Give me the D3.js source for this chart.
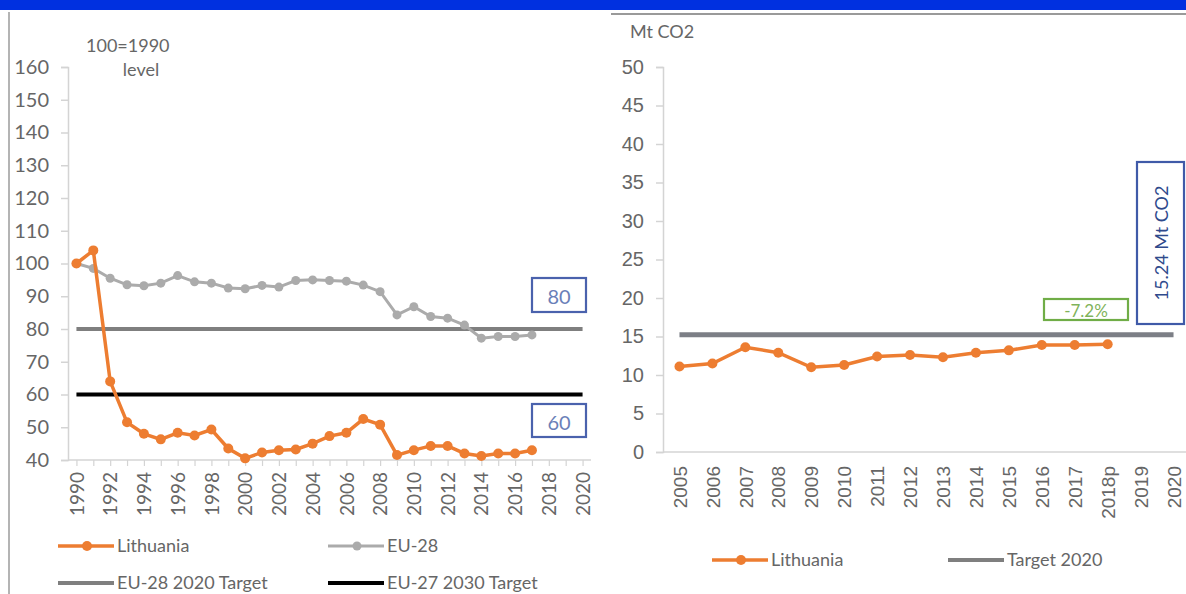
<!DOCTYPE html>
<html>
<head>
<meta charset="utf-8">
<script src="https://cdn.jsdelivr.net/npm/d3@7"></script>
<style>
  html, body { margin: 0; padding: 0; background: #fff; }
  svg { display: block; font-family: Lato, "Open Sans", sans-serif; }
</style>
</head>
<body>
<svg id="chart" width="1186" height="594"></svg>
<script>
// ---------- Data (left chart: index 1990 = 100) ----------
const yearsLeft = d3.range(1990, 2021).map(String);
const lithuaniaIndex = [100, 104, 64, 51.5, 48, 46.3, 48.3, 47.5, 49.3, 43.5, 40.5, 42.3, 43, 43.2, 45, 47.3, 48.3, 52.5, 50.8, 41.5, 43, 44.3, 44.3, 42, 41.2, 42, 42, 43];
const eu28Index = [100, 98.5, 95.5, 93.5, 93.2, 94, 96.3, 94.4, 94, 92.5, 92.3, 93.3, 92.8, 94.8, 95, 94.8, 94.6, 93.4, 91.4, 84.3, 86.8, 83.8, 83.3, 81.2, 77.2, 77.7, 77.7, 78.2];
const eu28Target2020 = 80;
const eu27Target2030 = 60;
const leftTicks = [40, 50, 60, 70, 80, 90, 100, 110, 120, 130, 140, 150, 160];
const leftXLabels = ["1990","1992","1994","1996","1998","2000","2002","2004","2006","2008","2010","2012","2014","2016","2018","2020"];

// ---------- Data (right chart: Mt CO2) ----------
const yearsRight = ["2005","2006","2007","2008","2009","2010","2011","2012","2013","2014","2015","2016","2017","2018p","2019","2020"];
const lithuaniaMt = [11.1, 11.5, 13.6, 12.9, 11.0, 11.3, 12.4, 12.6, 12.3, 12.9, 13.2, 13.9, 13.9, 14.0];
const target2020Mt = 15.24;
const rightTicks = [0, 5, 10, 15, 20, 25, 30, 35, 40, 45, 50];

const svg = d3.select("#chart");
const ORANGE = "#ED7D31", EUGRAY = "#ABABAB", TGRAY = "#7F7F7F", TXT = "#666666", AXIS = "#d4d4d4";

// frame decorations
svg.append("rect").attr("x", 0).attr("y", 0).attr("width", 1186).attr("height", 10).attr("fill", "#0030E0");
svg.append("line").attr("x1", 9).attr("x2", 9).attr("y1", 12).attr("y2", 594).attr("stroke", "#b4b4b4").attr("stroke-width", 2);
svg.append("line").attr("x1", 611).attr("x2", 1186).attr("y1", 14).attr("y2", 14).attr("stroke", "#9a9a9a").attr("stroke-width", 2);

// ================= LEFT CHART =================
const xL = d3.scalePoint().domain(yearsLeft).range([68, 591]).padding(0.5);
const yL = d3.scaleLinear().domain([40, 160]).range([460, 67]);

const gL = svg.append("g");
const yAxL = gL.append("g").attr("transform", "translate(68,0)")
  .call(d3.axisLeft(yL).tickValues(leftTicks).tickSize(7).tickPadding(12).tickFormat(d3.format("d")));
yAxL.select(".domain").attr("stroke", AXIS).attr("stroke-width", 1.5);
yAxL.selectAll(".tick line").attr("stroke", AXIS).attr("stroke-width", 1.5);
yAxL.selectAll("text").attr("fill", TXT).attr("font-size", 20).attr("font-family", "Lato");

const xAxL = gL.append("g").attr("transform", "translate(0,460)")
  .call(d3.axisBottom(xL).tickValues(yearsLeft).tickSize(6).tickFormat(d => leftXLabels.includes(d) ? d : ""));
xAxL.select(".domain").attr("stroke", AXIS).attr("stroke-width", 1.5).attr("d", "M68,0H591");
xAxL.selectAll(".tick line").attr("stroke", AXIS).attr("stroke-width", 1.2);
xAxL.selectAll("text").attr("fill", TXT).attr("font-size", 19).attr("font-family", "Lato")
  .attr("transform", "rotate(-90)").attr("text-anchor", "end").attr("x", -12).attr("y", 0).attr("dy", "0.35em");

const lineL = d3.line().x(d => xL(d.x)).y(d => yL(d.y));
gL.append("path").datum(yearsLeft.map(x => ({x, y: eu28Target2020})))
  .attr("d", lineL).attr("fill", "none").attr("stroke", TGRAY).attr("stroke-width", 4);
gL.append("path").datum(yearsLeft.map(x => ({x, y: eu27Target2030})))
  .attr("d", lineL).attr("fill", "none").attr("stroke", "#000").attr("stroke-width", 4);

const euData = eu28Index.map((y, i) => ({x: yearsLeft[i], y}));
gL.append("path").datum(euData).attr("d", lineL).attr("fill", "none").attr("stroke", EUGRAY).attr("stroke-width", 3);
gL.selectAll(".eu").data(euData).join("circle").attr("cx", d => xL(d.x)).attr("cy", d => yL(d.y)).attr("r", 4.5).attr("fill", EUGRAY);

const ltData = lithuaniaIndex.map((y, i) => ({x: yearsLeft[i], y}));
gL.append("path").datum(ltData).attr("d", lineL).attr("fill", "none").attr("stroke", ORANGE).attr("stroke-width", 3.5);
gL.selectAll(".lt").data(ltData).join("circle").attr("cx", d => xL(d.x)).attr("cy", d => yL(d.y)).attr("r", 5).attr("fill", ORANGE);

gL.append("text").attr("x", 86).attr("y", 52).attr("fill", TXT).attr("font-size", 18).text("100=1990");
gL.append("text").attr("x", 141).attr("y", 76).attr("fill", TXT).attr("font-size", 18).attr("text-anchor", "middle").text("level");

function box(g, x, y, w, h, stroke, txt, color, size, rot) {
  g.append("rect").attr("x", x).attr("y", y).attr("width", w).attr("height", h)
    .attr("fill", "#fff").attr("stroke", stroke).attr("stroke-width", 2.2);
  const t = g.append("text").attr("fill", color).attr("font-size", size)
    .attr("text-anchor", "middle").attr("dominant-baseline", "central").text(txt);
  if (rot) t.attr("transform", `translate(${x + w / 2},${y + h / 2}) rotate(-90)`);
  else t.attr("x", x + w / 2).attr("y", y + h / 2 + 1);
}
box(gL, 532, 278, 54, 34, "#4a62ad", String(eu28Target2020), "#6a80b8", 20);
box(gL, 532, 404, 54, 33, "#4a62ad", String(eu27Target2030), "#6a80b8", 20);

function legendItem(g, x, y, color, width, label, marker, mr) {
  g.append("line").attr("x1", x).attr("x2", x + 56).attr("y1", y).attr("y2", y).attr("stroke", color).attr("stroke-width", width);
  if (marker) g.append("circle").attr("cx", x + 29).attr("cy", y).attr("r", mr).attr("fill", color);
  g.append("text").attr("x", x + 59).attr("y", y).attr("dy", "0.35em").attr("fill", TXT).attr("font-size", 18).text(label);
}
legendItem(gL, 58, 546, ORANGE, 3.5, "Lithuania", true, 5);
legendItem(gL, 328, 546, EUGRAY, 3, "EU-28", true, 4.5);
legendItem(gL, 58, 583, TGRAY, 4, "EU-28 2020 Target", false);
legendItem(gL, 328, 583, "#000", 4, "EU-27 2030 Target", false);

// ================= RIGHT CHART =================
const xR = d3.scalePoint().domain(yearsRight).range([663, 1190]).padding(0.5);
const yR = d3.scaleLinear().domain([0, 50]).range([452, 67]);
const gR = svg.append("g");

const yAxR = gR.append("g").attr("transform", "translate(663,0)")
  .call(d3.axisLeft(yR).tickValues(rightTicks).tickSize(7).tickPadding(12).tickFormat(d3.format("d")));
yAxR.select(".domain").attr("stroke", AXIS).attr("stroke-width", 1.5);
yAxR.selectAll(".tick line").attr("stroke", AXIS).attr("stroke-width", 1.5);
yAxR.selectAll("text").attr("fill", TXT).attr("font-size", 20);

const xAxR = gR.append("g").attr("transform", "translate(0,452)")
  .call(d3.axisBottom(xR).tickSize(0));
xAxR.select(".domain").attr("stroke", AXIS).attr("stroke-width", 1.5).attr("d", "M663,0H1186");
xAxR.selectAll("text").attr("fill", TXT).attr("font-size", 19)
  .attr("transform", "rotate(-90)").attr("text-anchor", "end").attr("x", -14).attr("y", 0).attr("dy", "0.35em");

const lineR = d3.line().x(d => xR(d.x)).y(d => yR(d.y));
gR.append("path").datum(yearsRight.map(x => ({x, y: target2020Mt})))
  .attr("d", lineR).attr("fill", "none").attr("stroke", "#7c7f86").attr("stroke-width", 5);
const ltR = lithuaniaMt.map((y, i) => ({x: yearsRight[i], y}));
gR.append("path").datum(ltR).attr("d", lineR).attr("fill", "none").attr("stroke", ORANGE).attr("stroke-width", 3.5);
gR.selectAll(".ltr").data(ltR).join("circle").attr("cx", d => xR(d.x)).attr("cy", d => yR(d.y)).attr("r", 5).attr("fill", ORANGE);

gR.append("text").attr("x", 630).attr("y", 38).attr("fill", TXT).attr("font-size", 18).text("Mt CO2");

box(gR, 1044, 299, 84, 21, "#70AD47", "-7.2%", "#7fb35a", 17);
box(gR, 1137, 162, 47, 162, "#3f5aa8", "15.24 Mt CO2", "#2f4a8c", 18, true);

legendItem(gR, 712, 560, ORANGE, 3.5, "Lithuania", true, 5);
legendItem(gR, 948, 560, TGRAY, 4, "Target 2020", false);
</script>
</body>
</html>
